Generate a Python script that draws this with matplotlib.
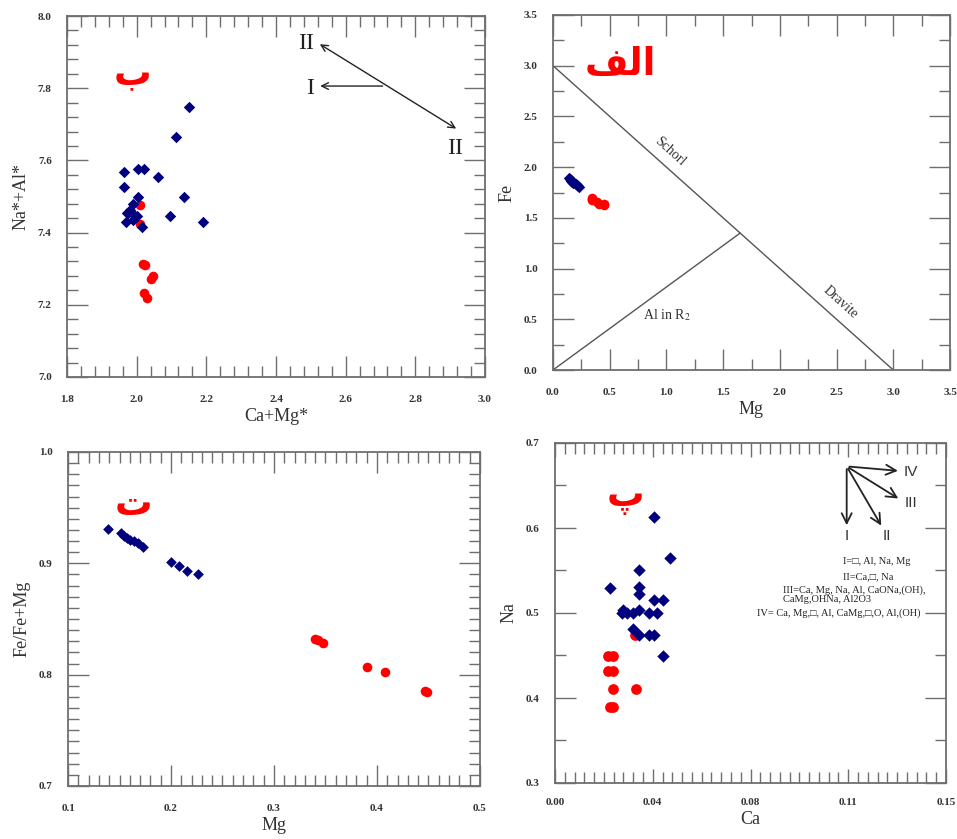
import matplotlib
matplotlib.use("Agg")
import matplotlib.pyplot as plt
import numpy as np
from matplotlib.ticker import MultipleLocator, FixedLocator

# ---- panel ب : Ca+Mg* vs Na*+Al*
b_blue_x = [1.965, 2.003, 2.022, 2.062, 1.963, 2.003, 2.137, 1.989, 1.976, 1.995,
            1.969, 1.989, 2.014, 2.097, 2.189, 2.114, 2.150, 1.981, 2.000, 1.972]
b_blue_y = [7.567, 7.575, 7.575, 7.554, 7.527, 7.499, 7.499, 7.479, 7.453, 7.446,
            7.430, 7.434, 7.416, 7.446, 7.428, 7.665, 7.747, 7.462, 7.445, 7.455]
b_red_x = [2.011, 2.011, 2.017, 2.024, 2.040, 2.047, 2.021, 2.029]
b_red_y = [7.476, 7.423, 7.314, 7.310, 7.272, 7.280, 7.233, 7.220]

# ---- panel الف : Mg vs Fe
a_blue_x = [0.137, 0.150, 0.155, 0.160, 0.165, 0.170, 0.175, 0.200, 0.208, 0.216, 0.225]
a_blue_y = [1.89, 1.88, 1.87, 1.86, 1.86, 1.85, 1.84, 1.83, 1.82, 1.81, 1.80]
a_red_x = [0.342, 0.345, 0.348, 0.390, 0.408, 0.449, 0.452]
a_red_y = [1.70, 1.69, 1.68, 1.66, 1.64, 1.64, 1.63]

# ---- panel ت : Mg vs Fe/Fe+Mg
t_blue_x = [0.1385, 0.151, 0.154, 0.157, 0.1605, 0.1637, 0.168, 0.173, 0.200, 0.208, 0.216, 0.226]
t_blue_y = [0.931, 0.927, 0.925, 0.923, 0.921, 0.920, 0.918, 0.915, 0.901, 0.898, 0.893, 0.890]
t_red_x = [0.340, 0.343, 0.348, 0.390, 0.4075, 0.447, 0.449]
t_red_y = [0.832, 0.831, 0.8285, 0.807, 0.802, 0.785, 0.784]

# ---- panel پ : Ca vs Na
p_blue_x = [0.0381, 0.0441, 0.0324, 0.0211, 0.0324, 0.0324, 0.0380, 0.0413, 0.0260, 0.0275,
            0.0301, 0.0324, 0.0362, 0.0393, 0.0301, 0.0324, 0.0362, 0.0380, 0.0413, 0.0256]
p_blue_y = [0.613, 0.565, 0.550, 0.529, 0.531, 0.522, 0.515, 0.515, 0.503, 0.500,
            0.500, 0.503, 0.500, 0.500, 0.481, 0.474, 0.474, 0.474, 0.449, 0.500]
p_red_x = [0.0307, 0.0202, 0.0221, 0.0202, 0.0221, 0.0221, 0.0311, 0.0211, 0.0221]
p_red_y = [0.474, 0.450, 0.450, 0.432, 0.432, 0.411, 0.411, 0.389, 0.389]
p_xtick_pos = [0.0, 0.0375, 0.075, 0.1125, 0.15]
p_xtick_lab = ["0.00", "0.04", "0.08", "0.11", "0.15"]

# substitution vectors text
p_notes = ["I=\u25a1, Al, Na, Mg",
           "II=Ca,\u25a1, Na",
           "III=Ca, Mg, Na, Al, CaONa,(OH),",
           "CaMg,OHNa, Al2O3",
           "IV= Ca, Mg,\u25a1, Al, CaMg,\u25a1,O, Al,(OH)"]

BLUE = "#00007f"
RED = "#ff0000"
GREY = "#6e6e6e"
SERIF = ["Liberation Serif", "DejaVu Serif"]

plt.rcParams["font.family"] = SERIF
plt.rcParams["mathtext.fontset"] = "stix"

W, H = 957, 839
fig = plt.figure(figsize=(W / 100, H / 100), dpi=100)


def add_panel(l, t, r, b):
    return fig.add_axes([l / W, 1 - b / H, (r - l) / W, (b - t) / H])


def style(ax, xlabel, ylabel):
    for s in ax.spines.values():
        s.set_color(GREY)
        s.set_linewidth(1.3)
    ax.tick_params(which="both", direction="in", top=True, right=True, color=GREY, width=1)
    ax.tick_params(which="major", length=15)
    ax.tick_params(which="minor", length=8)
    ax.tick_params(axis="x", pad=13)
    ax.tick_params(axis="y", pad=11)
    for lab in ax.get_xticklabels() + ax.get_yticklabels():
        lab.set_fontweight("bold")
        lab.set_fontsize(8)
        lab.set_color("#333333")
    ax.set_xlabel(xlabel, fontsize=13, color="#333333", labelpad=3)
    ax.set_ylabel(ylabel, fontsize=13, color="#333333", labelpad=6)


def persian(ax, x, y, s):
    ax.text(x, y, s, color=RED, fontsize=27, fontweight="bold",
            family=["DejaVu Sans"], ha="center", va="center")


# ---------------- top left (ب)
ax1 = add_panel(67, 16, 485, 377)
ax1.scatter(b_blue_x, b_blue_y, marker="D", s=34, color=BLUE, linewidths=0, zorder=3)
ax1.scatter(b_red_x, b_red_y, marker="o", s=48, color=RED, linewidths=0, zorder=2)
ax1.set_xlim(1.8, 3.0)
ax1.set_ylim(7.0, 8.0)
ax1.xaxis.set_major_locator(MultipleLocator(0.2))
ax1.xaxis.set_minor_locator(MultipleLocator(0.04))
ax1.yaxis.set_major_locator(MultipleLocator(0.2))
ax1.yaxis.set_minor_locator(MultipleLocator(0.04))
ax1.xaxis.set_major_formatter("{x:.1f}")
ax1.yaxis.set_major_formatter("{x:.1f}")
style(ax1, "Ca+Mg*", "Na*+Al*")
ax1.annotate("", xy=(2.519, 7.926), xytext=(2.924, 7.684),
             arrowprops=dict(arrowstyle="<->", color="#222222", lw=1, mutation_scale=12))
ax1.annotate("", xy=(2.519, 7.806), xytext=(2.714, 7.806),
             arrowprops=dict(arrowstyle="->", color="#222222", lw=1, mutation_scale=12))
ax1.text(2.51, 7.925, "II", fontsize=17, ha="right", va="center", color="#222222")
ax1.text(2.51, 7.80, "I", fontsize=17, ha="right", va="center", color="#222222")
ax1.text(2.915, 7.632, "II", fontsize=17, ha="center", va="center", color="#222222")
persian(ax1, 1.989, 7.835, "\u0628")

# ---------------- top right (الف)
ax2 = add_panel(553, 15, 950, 370)
ax2.plot([0, 3], [3, 0], color="#555555", lw=1)
ax2.plot([0, 1.65], [0, 1.35], color="#555555", lw=1)
ax2.scatter(a_blue_x, a_blue_y, marker="D", s=34, color=BLUE, linewidths=0, zorder=3)
ax2.scatter(a_red_x, a_red_y, marker="o", s=48, color=RED, linewidths=0, zorder=2)
ax2.set_xlim(0, 3.5)
ax2.set_ylim(0, 3.5)
for axis in (ax2.xaxis, ax2.yaxis):
    axis.set_major_locator(MultipleLocator(0.5))
    axis.set_minor_locator(MultipleLocator(0.25))
    axis.set_major_formatter("{x:.1f}")
style(ax2, "Mg", "Fe")
ax2.text(1.03, 2.15, "Schorl", rotation=-42, fontsize=10, ha="center", va="center", color="#333333")
ax2.text(2.53, 0.67, "Dravite", rotation=-42, fontsize=10, ha="center", va="center", color="#333333")
ax2.text(1.0, 0.54, "Al in R$_2$", fontsize=10, ha="center", va="center", color="#333333")
persian(ax2, 0.593, 3.01, "\ufed2\ufedf\u0627")

# ---------------- bottom left (ت)
ax3 = add_panel(68, 452, 480, 786)
ax3.scatter(t_blue_x, t_blue_y, marker="D", s=30, color=BLUE, linewidths=0, zorder=3)
ax3.scatter(t_red_x, t_red_y, marker="o", s=48, color=RED, linewidths=0, zorder=2)
ax3.set_xlim(0.1, 0.5)
ax3.set_ylim(0.7, 1.0)
for axis in (ax3.xaxis, ax3.yaxis):
    axis.set_major_locator(MultipleLocator(0.1))
    axis.set_minor_locator(MultipleLocator(0.01))
    axis.set_major_formatter("{x:.1f}")
style(ax3, "Mg", "Fe/Fe+Mg")
persian(ax3, 0.1634, 0.952, "\u062a")

# ---------------- bottom right (پ)
ax4 = add_panel(555, 443, 946, 783)
ax4.scatter(p_blue_x, p_blue_y, marker="D", s=40, color=BLUE, linewidths=0, zorder=3)
ax4.scatter(p_red_x, p_red_y, marker="o", s=60, color=RED, linewidths=0, zorder=2)
ax4.set_xlim(0, 0.15)
ax4.set_ylim(0.3, 0.7)
ax4.xaxis.set_major_locator(FixedLocator(p_xtick_pos))
ax4.xaxis.set_minor_locator(MultipleLocator(0.00375))
ax4.set_xticklabels(p_xtick_lab)
ax4.yaxis.set_major_locator(MultipleLocator(0.1))
ax4.yaxis.set_minor_locator(MultipleLocator(0.05))
ax4.yaxis.set_major_formatter("{x:.1f}")
style(ax4, "Ca", "Na")
ax4.tick_params(axis="x", which="major", length=10)
ax4.tick_params(axis="x", pad=11)
ax4.tick_params(axis="y", which="minor", length=8)

# substitution vectors
vx0, vy0 = 0.1119, 0.6725
ends = [(0.1119, 0.600), (0.1257, 0.600), (0.1326, 0.633), (0.1326, 0.667)]
for ex, ey in ends:
    ax4.annotate("", xy=(ex, ey), xytext=(vx0, vy0),
                 arrowprops=dict(arrowstyle="->", color="#222222", lw=1.3, mutation_scale=18))
for s, x, y in [("I", 0.112, 0.590), ("II", 0.1275, 0.590), ("III", 0.1365, 0.629), ("IV", 0.1365, 0.666)]:
    ax4.text(x, y, s, fontsize=11, family=["Liberation Sans", "DejaVu Sans"],
             ha="center", va="center", color="#333333")
note_pos = [(0.1106, 0.560), (0.1106, 0.543), (0.0873, 0.527), (0.0873, 0.516), (0.0774, 0.500)]
for s, (x, y) in zip(p_notes, note_pos):
    ax4.text(x, y, s, fontsize=7.5, family=["Liberation Serif", "DejaVu Sans"],
             ha="left", va="center", color="#222222")
persian(ax4, 0.0269, 0.636, "\u067e")

fig.savefig("out.png", dpi=100)
